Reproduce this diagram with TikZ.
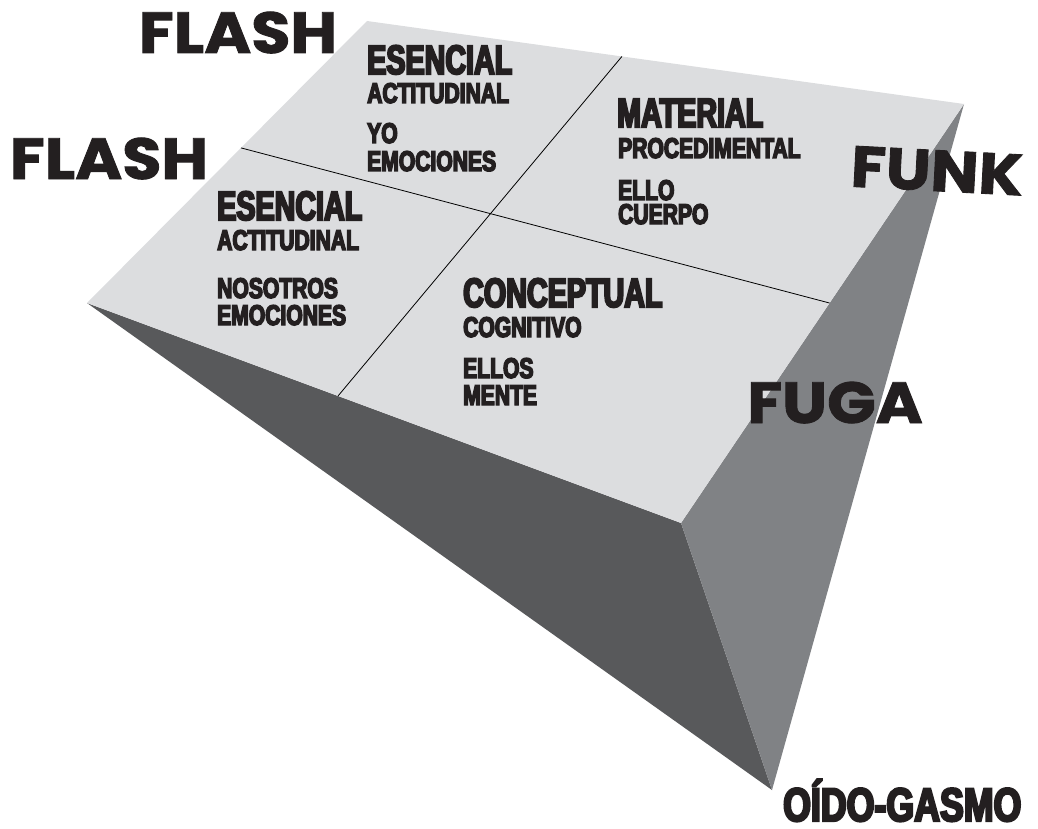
\documentclass[tikz,border=0pt]{standalone}
\usepackage{fontspec}
\usetikzlibrary{calc}
\newfontfamily\cond{Liberation Sans}[FakeStretch=0.70,FakeBold=5]
\newfontfamily\condsub{Liberation Sans}[FakeStretch=0.74,FakeBold=5]
\newfontfamily\condbig{Liberation Sans}[FakeStretch=0.76,FakeBold=5]
\newfontfamily\brush{Poppins}[FakeStretch=1.1,FakeBold=1.5]
\definecolor{topface}{HTML}{DCDDDF}
\definecolor{rightface}{HTML}{808285}
\definecolor{darkface}{HTML}{58595B}
\definecolor{ink}{HTML}{231F20}
\tikzset{
  title/.style={inner sep=0pt,anchor=base west,text=ink,font=\cond\bfseries\fontsize{41}{41}\selectfont},
  sub/.style={inner sep=0pt,anchor=base west,text=ink,font=\condsub\bfseries\fontsize{28.5}{28.5}\selectfont},
  brushtext/.style={inner sep=0pt,anchor=base,text=ink,font=\brush\bfseries\fontsize{58}{58}\selectfont},
  divider/.style={black,line width=0.8pt}
}
\begin{document}
\begin{tikzpicture}[x=1pt,y=-1pt]
\useasboundingbox (0,0) rectangle (1038,829);
\coordinate (TL) at (367,21);
\coordinate (TR) at (964,104);
\coordinate (BR) at (681,523);
\coordinate (L) at (87,303);
\coordinate (AP) at (772,790);
% faces
\fill[darkface] (L) -- (BR) -- (AP) -- cycle;
\fill[rightface] (TR) -- (BR) -- (AP) -- cycle;
\fill[topface] (TL) -- (TR) -- (BR) -- (L) -- cycle;
% dividers
\coordinate (d1a) at ($(TL)!0.45!(L)$);
\coordinate (d1b) at ($(TR)!0.475!(BR)$);
\coordinate (d2a) at ($(TL)!0.427!(TR)$);
\coordinate (d2b) at ($(L)!0.4226!(BR)$);
\draw[divider] (d1a) -- (d1b);
\draw[divider] (d2a) -- (d2b);
% quadrant: top
\node[title] (q1t) at (367,74) {ESENCIAL};
\node[sub] (q1s) at (367,103) {ACTITUDINAL};
\node[sub] (q1a) at (367,143) {YO};
\node[sub] (q1b) at (367,171) {EMOCIONES};
% quadrant: right
\node[title] (q2t) at (617,127) {MATERIAL};
\node[sub] (q2s) at (618,158) {PROCEDIMENTAL};
\node[sub] (q2a) at (618,200) {ELLO};
\node[sub] (q2b) at (618,224) {CUERPO};
% quadrant: left
\node[title] (q3t) at (217,220) {ESENCIAL};
\node[sub] (q3s) at (217,250) {ACTITUDINAL};
\node[sub] (q3a) at (217,298) {NOSOTROS};
\node[sub] (q3b) at (217,325) {EMOCIONES};
% quadrant: bottom
\node[title] (q4t) at (463,307) {CONCEPTUAL};
\node[sub] (q4s) at (463,337) {COGNITIVO};
\node[sub] (q4a) at (463,378) {ELLOS};
\node[sub] (q4b) at (463,405) {MENTE};
% brush labels
\node[brushtext] (flash1) at (238,53) {FLASH};
\node[brushtext] (flash2) at (109,179) {FLASH};
\node[brushtext,rotate=-3] (funk) at (936,191) {FUNK};
\node[brushtext] (fuga) at (835,423) {FUGA};
% apex label
\node[inner sep=0pt,anchor=base west,text=ink,font=\condbig\bfseries\fontsize{47}{47}\selectfont] (oido) at (783,821) {OÍDO-GASMO};
\end{tikzpicture}
\end{document}
